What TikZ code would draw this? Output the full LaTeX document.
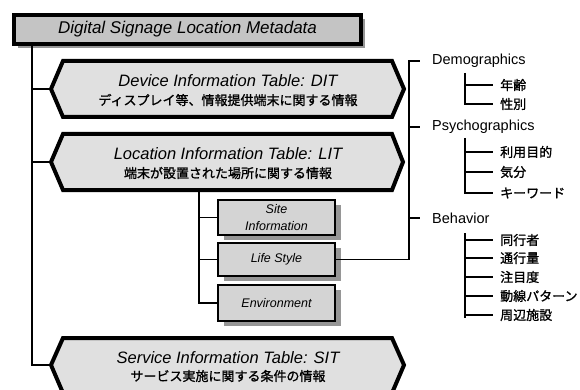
\documentclass[tikz,border=0pt]{standalone}
\usepackage{fontspec}
\setmainfont{Liberation Sans}
\newfontfamily\jp[FakeBold=1.2]{Noto Sans CJK JP}
\usepackage{tikz}
\usetikzlibrary{calc}
\usetikzlibrary{positioning}
\usetikzlibrary{shadows}

\definecolor{metagray}{RGB}{196,196,196}
\definecolor{tblgray}{RGB}{224,224,224}
\definecolor{subgray}{RGB}{212,212,212}
\definecolor{shadegray}{RGB}{150,150,150}

\begin{document}
\begin{tikzpicture}[
	x=1pt, y=-1pt,
	line join=miter,
	conn/.style = {line width=1.7pt},
	tbl/.style = {draw, line width=4pt, fill=tblgray},
	metabox/.style = {draw, line width=4pt, fill=metagray, inner sep=0pt,
		drop shadow={shadow xshift=4pt, shadow yshift=-4pt, fill=shadegray, opacity=1},
		font=\fontsize{17}{19}\selectfont\itshape},
	subbox/.style = {draw, line width=2.2pt, fill=subgray, inner sep=0pt, align=center,
		drop shadow={shadow xshift=6pt, shadow yshift=-5pt, fill=shadegray, opacity=1},
		font=\fontsize{12.5}{17}\selectfont\itshape},
	head/.style = {inner sep=0pt, font=\fontsize{16.5}{18}\selectfont\itshape},
	sub/.style = {inner sep=0pt, font=\fontsize{13}{15}\selectfont\jp},
	cat/.style = {anchor=west, inner xsep=0pt, font=\fontsize{14.5}{16}\selectfont},
	item/.style = {anchor=west, inner xsep=0pt, font=\fontsize{13}{15}\selectfont\jp}
  ]
	\useasboundingbox (0,0) rectangle (580,390);

	\node[metabox, minimum width=347pt, minimum height=29pt] (@meta) at (187.5,29.5) {Digital Signage Location Metadata};

	% the three tables
	\coordinate (@dit) at (51,89);
	\coordinate (@lit) at (51,162);
	\coordinate (@sit) at (51,365);

	\draw[tbl] (@dit) -- (63,61) -- (392,61) -- (404,89) -- (392,117) -- (63,117) -- cycle;
	\draw[tbl] (@lit) -- (63,134) -- (392,134) -- (403,162) -- (392,190) -- (63,190) -- cycle;
	\draw[tbl] (@sit) -- (63,338) -- (392,338) -- (404,365) -- (392,393) -- (63,393) -- cycle;

	\node[head] (@ditname) at (228,81) {Device Information Table: DIT};
	\node[sub] (@ditjp) at (228,100) {ディスプレイ等、情報提供端末に関する情報};
	\node[head] (@litname) at (228,154) {Location Information Table: LIT};
	\node[sub] (@litjp) at (228,173) {端末が設置された場所に関する情報};
	\node[head] (@sitname) at (228,358) {Service Information Table: SIT};
	\node[sub] (@sitjp) at (228,376) {サービス実施に関する条件の情報};

	\coordinate (@t) at (32,46);
	\draw[conn] (@t) |- (@sit);
	\draw[conn] (@t |- @dit) -- (@dit);
	\draw[conn] (@t |- @lit) -- (@lit);

	% parts of the LIT
	\node[subbox, minimum width=117pt, minimum height=35pt] (@site) at (276.5,217.5) {Site\\Information};
	\node[subbox, minimum width=117pt, minimum height=33pt] (@life) at (276.5,259.5) {Life Style};
	\node[subbox, minimum width=117pt, minimum height=36pt] (@env) at (276.5,303) {Environment};

	\coordinate (@s) at (199,191);
	\draw[conn] (@s) |- (@env.west);
	\draw[conn] (@s |- @site.west) -- (@site.west);
	\draw[conn] (@s |- @life.west) -- (@life.west);

	% life style attributes
	\node[cat] (@demo) at (432,61) {Demographics};
	\node[cat] (@psy) at (432,127) {Psychographics};
	\node[cat] (@beh) at (432,218) {Behavior};

	\coordinate (@r) at (409,61);
	\draw[conn] (@life.east) -| (@r) -- ([xshift=-12pt]@demo.west);
	\draw[conn] (@r |- @psy) -- ([xshift=-12pt]@psy.west);
	\draw[conn] (@r |- @beh) -- ([xshift=-12pt]@beh.west);

	\node[item] (@d1) at (500,85) {年齢};
	\node[item] (@d2) at (500,104) {性別};
	\coordinate (@dt) at (465,73);
	\draw[conn] (@dt) |- ([xshift=-7pt]@d2.west);
	\draw[conn] (@dt |- @d1) -- ([xshift=-7pt]@d1.west);

	\node[item] (@p1) at (500,152) {利用目的};
	\node[item] (@p2) at (500,172) {気分};
	\node[item] (@p3) at (500,193) {キーワード};
	\coordinate (@pt) at (465,138);
	\draw[conn] (@pt) |- ([xshift=-7pt]@p3.west);
	\draw[conn] (@pt |- @p1) -- ([xshift=-7pt]@p1.west);
	\draw[conn] (@pt |- @p2) -- ([xshift=-7pt]@p2.west);

	\node[item] (@b1) at (500,240) {同行者};
	\node[item] (@b2) at (500,258) {通行量};
	\node[item] (@b3) at (500,277) {注目度};
	\node[item] (@b4) at (500,296) {動線パターン};
	\node[item] (@b5) at (500,315) {周辺施設};
	\coordinate (@bt) at (465,233);
	\draw[conn] (@bt) -- ++(0,85);
	\draw[conn] (@bt |- @b1) -- ([xshift=-7pt]@b1.west);
	\draw[conn] (@bt |- @b2) -- ([xshift=-7pt]@b2.west);
	\draw[conn] (@bt |- @b3) -- ([xshift=-7pt]@b3.west);
	\draw[conn] (@bt |- @b4) -- ([xshift=-7pt]@b4.west);
	\draw[conn] (@bt |- @b5) -- ([xshift=-7pt]@b5.west);

\end{tikzpicture}
\end{document}
